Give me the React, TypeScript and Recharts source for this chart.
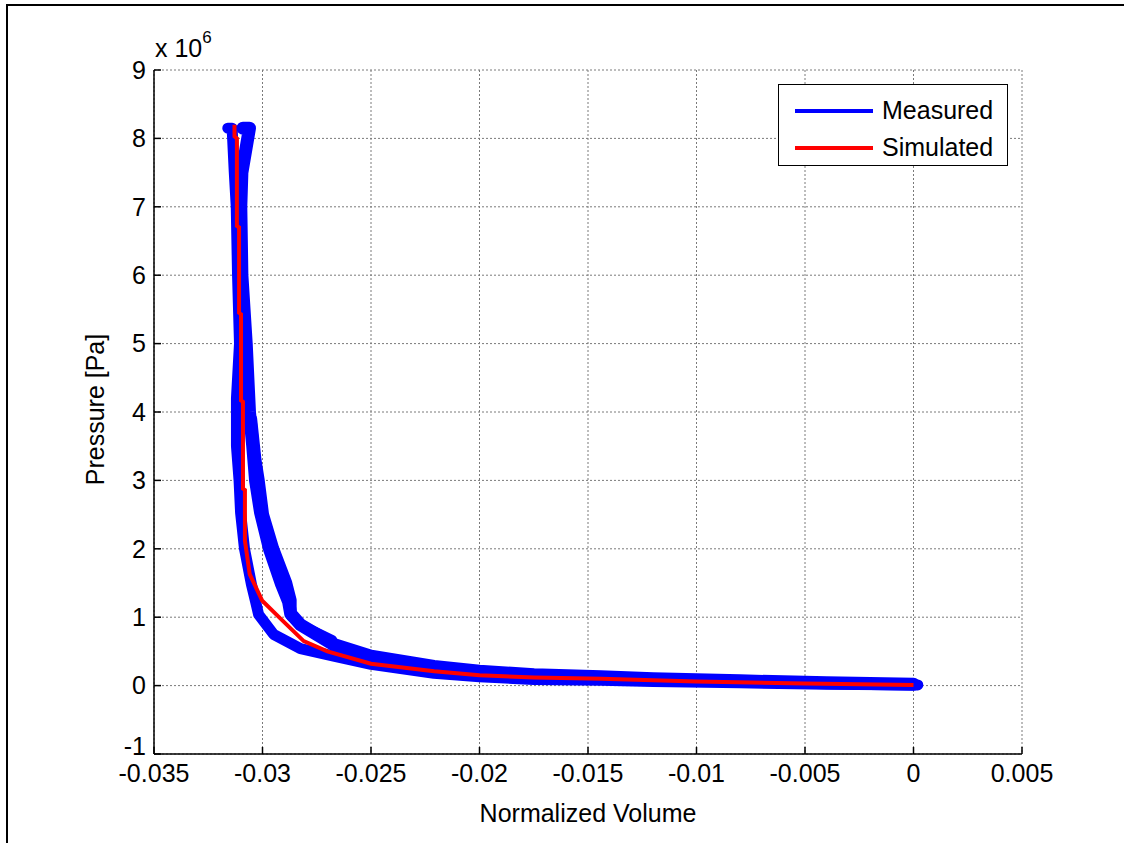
import { LineChart, Line, XAxis, YAxis, CartesianGrid, Legend } from "recharts";

type Pt = [number, number];

// normalized volume [-], pressure [x 1e6 Pa]
const simulated: Pt[] = [
  [-0.03129, 8.2], [-0.03129, 8.03], [-0.03118, 8.0], [-0.03118, 6.72],
  [-0.03108, 6.7], [-0.03108, 5.45], [-0.03099, 5.43], [-0.03099, 4.17],
  [-0.0309, 4.15], [-0.0309, 2.88], [-0.03081, 2.86], [-0.03081, 2.12],
  [-0.03059, 1.63], [-0.03001, 1.24], [-0.02917, 0.98], [-0.0281, 0.65],
  [-0.02701, 0.5], [-0.025, 0.32], [-0.02209, 0.21], [-0.02, 0.15],
  [-0.01747, 0.12], [-0.01439, 0.1], [-0.01, 0.06], [-0.005, 0.03], [0, 0.01],
];

// measured loop, right (loading) branch
const measuredLoad: Pt[] = [
  [-0.0309, 8.15], [-0.0306, 8.15], [-0.03095, 7.5], [-0.031, 7.0], [-0.03095, 6.0],
  [-0.03075, 5.0], [-0.0306, 4.0], [-0.03045, 3.5], [-0.03032, 3.0],
  [-0.03009, 2.53], [-0.02968, 2.0], [-0.02912, 1.48], [-0.0288, 1.23],
  [-0.0287, 1.05], [-0.02825, 0.89], [-0.02672, 0.6], [-0.025, 0.43],
  [-0.0221, 0.28], [-0.02, 0.21], [-0.01749, 0.16], [-0.0144, 0.13],
  [-0.012, 0.1], [-0.008, 0.07], [-0.004, 0.04], [0, 0.02],
];

// outer edge of the loading branch where the band is widest
const measuredLoadOuter: Pt[] = [
  [-0.0305, 3.9], [-0.0303, 3.3], [-0.03015, 3.0], [-0.02995, 2.5],
  [-0.02948, 2.0], [-0.02888, 1.5], [-0.02868, 1.25], [-0.02868, 1.02],
  [-0.0281, 0.86], [-0.0268, 0.66],
];

// measured loop, left (unloading) branch
const measuredUnload: Pt[] = [
  [-0.0316, 8.15], [-0.0314, 8.15], [-0.0313, 7.5], [-0.03121, 7.0], [-0.03115, 6.0],
  [-0.03106, 5.0], [-0.0312, 4.2], [-0.0312, 3.5], [-0.03108, 3.0],
  [-0.03101, 2.53], [-0.03083, 2.0], [-0.03051, 1.48], [-0.03032, 1.23],
  [-0.03018, 1.04], [-0.02949, 0.75], [-0.02825, 0.54], [-0.02672, 0.43],
  [-0.025, 0.31], [-0.0221, 0.18], [-0.02, 0.13], [-0.0175, 0.09],
  [-0.0144, 0.08], [-0.012, 0.06], [-0.008, 0.04], [-0.004, 0.02], [0.0002, 0.01],
];

const xTicks = [-0.035, -0.03, -0.025, -0.02, -0.015, -0.01, -0.005, 0, 0.005];
const yTicks = [-1, 0, 1, 2, 3, 4, 5, 6, 7, 8, 9];

const FONT = '"Liberation Sans", Arial, sans-serif';
const rows = (pts: Pt[]) => pts.map(([v, p]) => ({ v, p }));

const tickText = { fontSize: 25, fill: "#000", fontFamily: FONT };
const tickLn = { stroke: "#000", strokeWidth: 1.5 };
const axisLn = { stroke: "#000", strokeWidth: 1.5 };

// matlab lifts the lowest y label a little
function YTick(props: any) {
  const { x, y, payload } = props;
  const lift = payload.value === -1 ? -8 : 0;
  return (
    <text x={x} y={y + lift} dy="0.355em" textAnchor="end" fontSize={25} fontFamily={FONT} fill="#000">
      {payload.value}
    </text>
  );
}

function LegendBox() {
  const items = [
    { name: "Measured", color: "#0000FF" },
    { name: "Simulated", color: "#FF0000" },
  ];
  return (
    <div
      style={{
        width: 230,
        height: 82,
        border: "1.5px solid #000",
        background: "#fff",
        boxSizing: "border-box",
        paddingTop: 7,
        fontFamily: FONT,
        fontSize: 25,
        color: "#000",
      }}
    >
      {items.map((it) => (
        <div key={it.name} style={{ display: "flex", alignItems: "center", height: 37 }}>
          <div style={{ width: 78, height: 4, background: it.color, marginLeft: 16, marginRight: 9 }} />
          <span style={{ lineHeight: "25px" }}>{it.name}</span>
        </div>
      ))}
    </div>
  );
}

export default function App() {
  return (
    <div
      style={{
        position: "absolute",
        left: 0,
        top: 0,
        width: 1124,
        height: 843,
        background: "#fff",
        overflow: "hidden",
        fontFamily: FONT,
      }}
    >
      <div
        style={{
          position: "absolute",
          left: 6,
          top: 4,
          width: 1200,
          height: 900,
          borderLeft: "2px solid #000",
          borderTop: "2px solid #000",
        }}
      />
      <div style={{ position: "absolute", left: 0, top: 0 }}>
        <LineChart width={1124} height={843} margin={{ top: 70, right: 102, bottom: 59, left: 94 }}>
          <CartesianGrid stroke="#7a7a7a" strokeDasharray="2 2" />
          <XAxis
            dataKey="v"
            type="number"
            domain={[-0.035, 0.005]}
            ticks={xTicks}
            allowDataOverflow
            height={30}
            tickSize={-7}
            tickMargin={17}
            tick={tickText}
            tickLine={tickLn}
            axisLine={axisLn}
          />
          <XAxis
            xAxisId="top"
            orientation="top"
            dataKey="v"
            type="number"
            domain={[-0.035, 0.005]}
            ticks={xTicks}
            height={0}
            tickSize={-7}
            tick={false}
            tickLine={tickLn}
            axisLine={axisLn}
          />
          <YAxis
            dataKey="p"
            type="number"
            domain={[-1, 9]}
            ticks={yTicks}
            allowDataOverflow
            width={60}
            tickSize={-7}
            tickMargin={15}
            tick={<YTick />}
            tickLine={tickLn}
            axisLine={axisLn}
          />
          <YAxis
            yAxisId="right"
            orientation="right"
            type="number"
            domain={[-1, 9]}
            ticks={yTicks}
            width={0}
            tickSize={-7}
            tick={false}
            tickLine={tickLn}
            axisLine={axisLn}
          />
          <Legend
            layout="vertical"
            align="center"
            verticalAlign="middle"
            wrapperStyle={{ position: "absolute", left: 778, top: 84, width: 232, height: 84 }}
            content={() => <LegendBox />}
          />
          <Line
            name="Measured"
            data={rows(measuredLoad)}
            dataKey="p"
            stroke="#0000FF"
            strokeWidth={13}
            strokeLinecap="round"
            strokeLinejoin="round"
            dot={false}
            type="linear"
            isAnimationActive={false}
          />
          <Line
            name="Measured (outer)"
            legendType="none"
            data={rows(measuredLoadOuter)}
            dataKey="p"
            stroke="#0000FF"
            strokeWidth={11}
            strokeLinecap="round"
            strokeLinejoin="round"
            dot={false}
            type="linear"
            isAnimationActive={false}
          />
          <Line
            name="Measured (unloading)"
            legendType="none"
            data={rows(measuredUnload)}
            dataKey="p"
            stroke="#0000FF"
            strokeWidth={11}
            strokeLinecap="round"
            strokeLinejoin="round"
            dot={false}
            type="linear"
            isAnimationActive={false}
          />
          <Line
            name="Simulated"
            data={rows(simulated)}
            dataKey="p"
            stroke="#FF0000"
            strokeWidth={4}
            dot={false}
            type="linear"
            isAnimationActive={false}
          />
        </LineChart>
      </div>
      <div style={{ position: "absolute", left: 155, top: 36, fontSize: 25, lineHeight: "25px", color: "#000" }}>
        x 10<span style={{ position: "relative", top: -14, fontSize: 17 }}>6</span>
      </div>
      <div
        style={{
          position: "absolute",
          left: 95 - 150,
          top: 410 - 13,
          width: 300,
          textAlign: "center",
          fontSize: 25,
          lineHeight: "25px",
          color: "#000",
          transform: "rotate(-90deg)",
        }}
      >
        Pressure [Pa]
      </div>
      <div
        style={{
          position: "absolute",
          left: 588 - 200,
          top: 801,
          width: 400,
          textAlign: "center",
          fontSize: 25,
          lineHeight: "25px",
          color: "#000",
        }}
      >
        Normalized Volume
      </div>
    </div>
  );
}
